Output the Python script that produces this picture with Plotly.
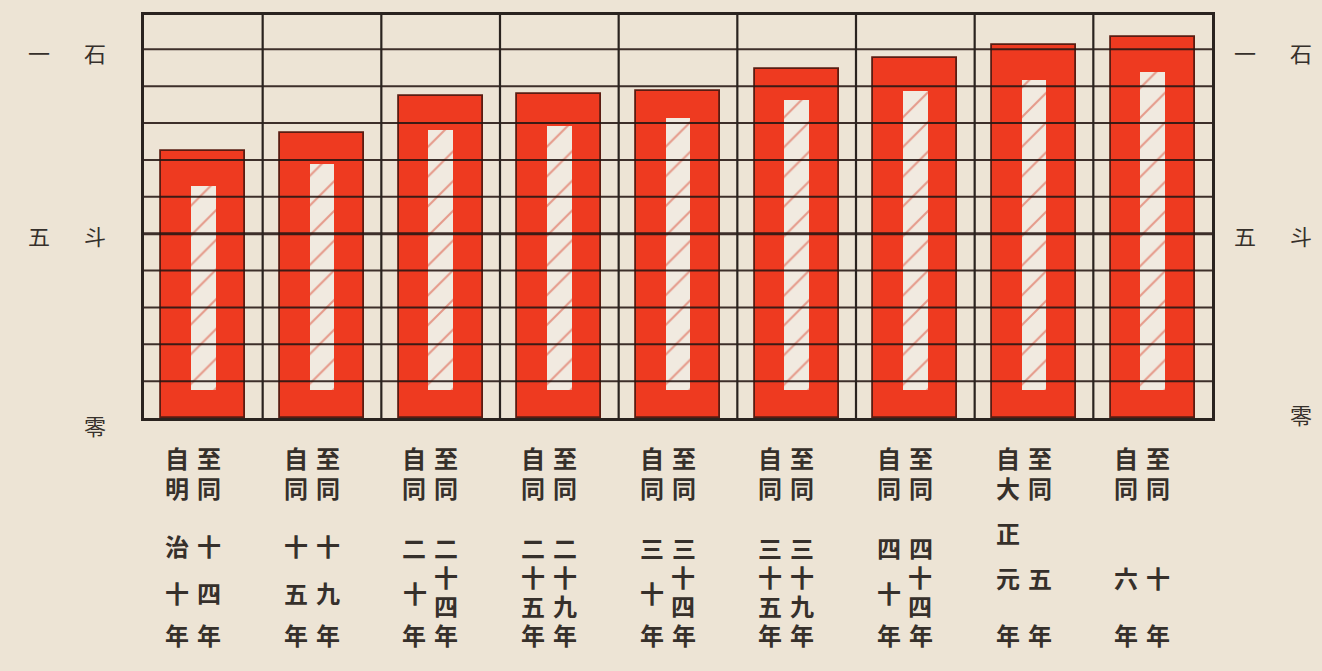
import plotly.graph_objects as go

# ---------------- data ----------------
period_from = ["自明治十年", "自同十五年", "自同二十年", "自同二十五年", "自同三十年",
               "自同三十五年", "自同四十年", "自大正元年", "自同六年"]
period_to = ["至同十四年", "至同十九年", "至同二十四年", "至同二十九年", "至同三十四年",
             "至同三十九年", "至同四十四年", "至同五年", "至同十年"]
outer_value = [7.25, 7.73, 8.72, 8.80, 8.86, 9.46, 9.76, 10.11, 10.33]   # 斗
inner_top = [6.29, 6.88, 7.82, 7.91, 8.14, 8.62, 8.86, 9.16, 9.38]
inner_base = [0.76, 0.76, 0.76, 0.76, 0.76, 0.76, 0.76, 0.76, 0.76]
y_tick_vals = [0, 5, 10]
y_tick_text = ["零", "五斗", "一石"]
grid_vals = [1, 2, 3, 4, 5, 6, 7, 8, 9, 10]

# ---------------- style ----------------
BG = "#EDE4D5"
RED = "#EE3A20"
INK = "#2A231F"
TXT = "#36302B"
FONT = "DejaVu Sans, Noto Sans CJK JP"
LSIZE = 24
GAP = "\u2004"

xs = list(range(len(outer_value)))

fig = go.Figure()
fig.add_trace(go.Bar(
    x=xs, y=outer_value, base=0, width=0.71,
    marker=dict(color=RED, line=dict(color="#5A1C12", width=1.8)),
    showlegend=False, hoverinfo="skip"))
fig.add_trace(go.Bar(
    x=xs, y=[t - b for t, b in zip(inner_top, inner_base)], base=inner_base, width=0.21,
    marker=dict(color="#F1EAE0", line=dict(width=0),
                pattern=dict(shape="/", size=21, solidity=0.1,
                             fgcolor="#D94A34", bgcolor="#F1EAE0")),
    showlegend=False, hoverinfo="skip"))

# horizontal rules drawn over the bars
for v in grid_vals:
    fig.add_shape(type="line", xref="paper", x0=0, x1=1, yref="y", y0=v, y1=v,
                  layer="above",
                  line=dict(color="rgba(36,22,18,0.88)", width=3.0 if v == 5 else 2.0))
# column dividers
for k in range(len(xs) - 1):
    fig.add_shape(type="line", xref="x", x0=k + 0.5, x1=k + 0.5, yref="paper", y0=0, y1=1,
                  layer="above", line=dict(color=INK, width=2.2))

annotations = []
# y labels (both sides)
left_cols = [-0.098, -0.046]
right_cols = [1.031, 1.083]
lshift = {0: -9, 5: -4, 10: -5}
rshift = {0: 2, 5: -4, 10: -5}
for v, lab in zip(y_tick_vals, y_tick_text):
    chars = list(lab)
    for cols, sh in [(left_cols, lshift), (right_cols, rshift)]:
        for c, xp in zip(chars, cols[-len(chars):]):
            annotations.append(dict(text=c, xref="paper", x=xp, xanchor="center",
                                    yref="y", y=v, yshift=sh[v], showarrow=False,
                                    font=dict(family=FONT, size=22, color=TXT)))

# bottom category labels (vertical text, two columns each)
BASE_PX = 418
LBL = dict(family=FONT, size=LSIZE, color=TXT, weight="bold")
DX_L, DX_R = -26, 5


def rows_for(n, other):
    top = [460, 490]
    if n == 3:
        mid = [550, 579, 608]
    elif n == 1:
        mid = [580]
    else:
        mid = {1: [535, 580], 2: [548, 595], 3: [550, 595]}[other]
    return top + mid + [637]


def put(text, i, dx, y_px):
    annotations.append(dict(text=text, xref="x", x=i, xshift=dx, xanchor="center",
                            yref="paper", y=0, yshift=BASE_PX - y_px,
                            showarrow=False, yanchor="middle", font=LBL))


for i, (f, t) in enumerate(zip(period_from, period_to)):
    nf, nt = len(f) - 3, len(t) - 3
    left = dict(zip(rows_for(nf, nt), f))
    right = dict(zip(rows_for(nt, nf), t))
    for y in sorted(set(left) | set(right)):
        if y in left and y in right:
            put(left[y] + GAP + right[y], i, (DX_L + DX_R) / 2, y)
        elif y in left:
            put(left[y], i, DX_L, y)
        else:
            put(right[y], i, DX_R, y)

fig.update_layout(
    width=1322, height=671,
    margin=dict(l=144, r=110, t=12, b=253),
    paper_bgcolor=BG, plot_bgcolor=BG,
    barmode="overlay", bargap=0,
    annotations=annotations,
    xaxis=dict(range=[-0.5, len(xs) - 0.5], showgrid=False, zeroline=False,
               showticklabels=False, ticks="", showline=True, mirror=True,
               linecolor=INK, linewidth=2.6, fixedrange=True),
    yaxis=dict(range=[0, 10.93], showgrid=False, zeroline=False,
               showticklabels=False, ticks="", showline=True, mirror=True,
               linecolor=INK, linewidth=2.6, fixedrange=True),
)
fig.write_html("out.html", config={"displayModeBar": False},
               post_script="document.body.style.margin='0';"
                           "document.body.style.background='%s';" % BG)
